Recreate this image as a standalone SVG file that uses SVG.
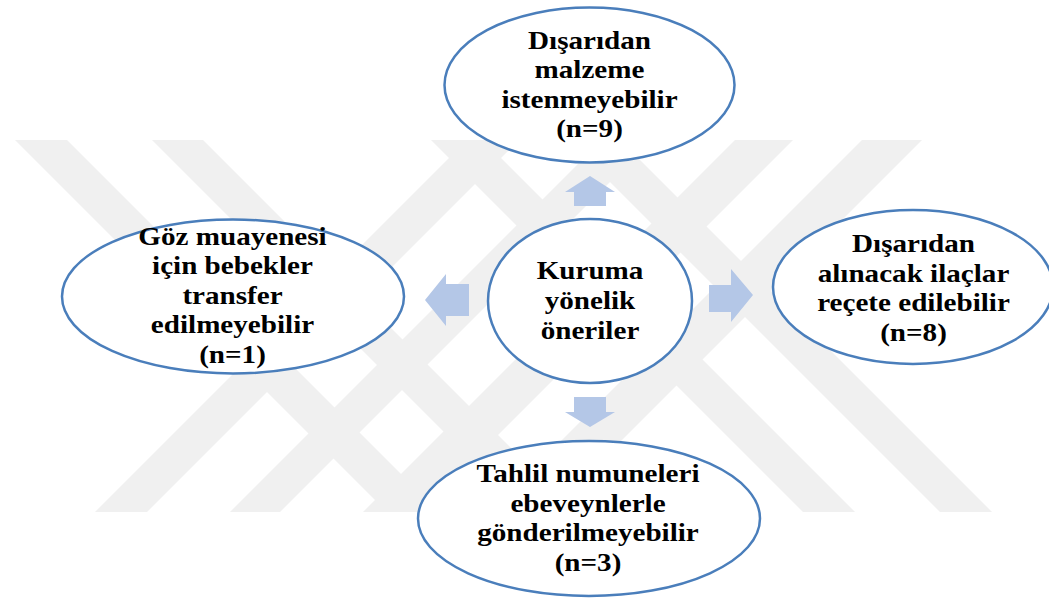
<svg xmlns="http://www.w3.org/2000/svg" width="1049" height="599" viewBox="0 0 1049 599">
  <style>
    .node { fill: #ffffff; stroke: #4a7ebb; stroke-width: 2.5; }
    .arrow { fill: #b4c7e7; }
    .mark { fill: #f0f0f0; }
    .label { font-family: "Liberation Serif", "Times New Roman", serif; font-weight: bold; font-size: 26px; fill: #000000; text-anchor: middle; }
  </style>

  <!-- faint background emblem: crossing diagonal bands -->
  <g id="background">
    <!-- bands running down to the right -->
    <polygon class="mark" points="15,140 67,140 439,512 387,512"/>
    <polygon class="mark" points="152,140 203,140 575,512 524,512"/>
    <polygon class="mark" points="431,140 483,140 855,512 803,512"/>
    <polygon class="mark" points="568,140 620,140 992,512 940,512"/>
    <!-- bands running up to the right -->
    <polygon class="mark" points="95,512 147,512 519,140 467,140"/>
    <polygon class="mark" points="230,512 280,512 652,140 602,140"/>
    <polygon class="mark" points="363,512 421,512 793,140 735,140"/>
    <polygon class="mark" points="490,512 550,512 922,140 862,140"/>
  </g>

  <!-- block arrows from the centre node -->
  <g id="connectors">
    <polygon class="arrow" points="590,176 615,192 606,192 606,206 574,206 574,192 565,192"/>
    <polygon class="arrow" points="574,397 606,397 606,412 615,412 590,427 565,412 574,412"/>
    <polygon class="arrow" points="425,300 446,274 446,284 469,284 469,316 446,316 446,326"/>
    <polygon class="arrow" points="709,285 731,285 731,269 753,295 731,322 731,312 709,312"/>
  </g>

  <g id="node-center">
    <ellipse class="node" cx="590" cy="301" rx="102" ry="82"/>
    <g transform="translate(590 0) scale(1.12 1)">
      <text class="label" x="0" y="279.5">Kuruma</text>
      <text class="label" x="0" y="309.5">yönelik</text>
      <text class="label" x="0" y="339.5">öneriler</text>
    </g>
  </g>

  <g id="node-top">
    <ellipse class="node" cx="589.5" cy="85" rx="145" ry="77.5"/>
    <g transform="translate(589.5 0) scale(1.12 1)">
      <text class="label" x="0" y="49">Dışarıdan</text>
      <text class="label" x="0" y="78.5">malzeme</text>
      <text class="label" x="0" y="108">istenmeyebilir</text>
      <text class="label" x="0" y="137.5">(n=9)</text>
    </g>
  </g>

  <g id="node-left">
    <ellipse class="node" cx="233" cy="296.5" rx="171" ry="77"/>
    <g transform="translate(232.5 0) scale(1.12 1)">
      <text class="label" x="0" y="245">Göz muayenesi</text>
      <text class="label" x="0" y="274.5">için bebekler</text>
      <text class="label" x="0" y="304">transfer</text>
      <text class="label" x="0" y="333.5">edilmeyebilir</text>
      <text class="label" x="0" y="363">(n=1)</text>
    </g>
  </g>

  <g id="node-right">
    <ellipse class="node" cx="913" cy="287" rx="140" ry="77"/>
    <g transform="translate(913.5 0) scale(1.12 1)">
      <text class="label" x="0" y="252.5">Dışarıdan</text>
      <text class="label" x="0" y="282">alınacak ilaçlar</text>
      <text class="label" x="0" y="311.5">reçete edilebilir</text>
      <text class="label" x="0" y="341">(n=8)</text>
    </g>
  </g>

  <g id="node-bottom">
    <ellipse class="node" cx="589" cy="518.5" rx="171" ry="77.5"/>
    <g transform="translate(588 0) scale(1.12 1)">
      <text class="label" x="0" y="482.5">Tahlil numuneleri</text>
      <text class="label" x="0" y="512">ebeveynlerle</text>
      <text class="label" x="0" y="541.5">gönderilmeyebilir</text>
      <text class="label" x="0" y="571">(n=3)</text>
    </g>
  </g>
</svg>
